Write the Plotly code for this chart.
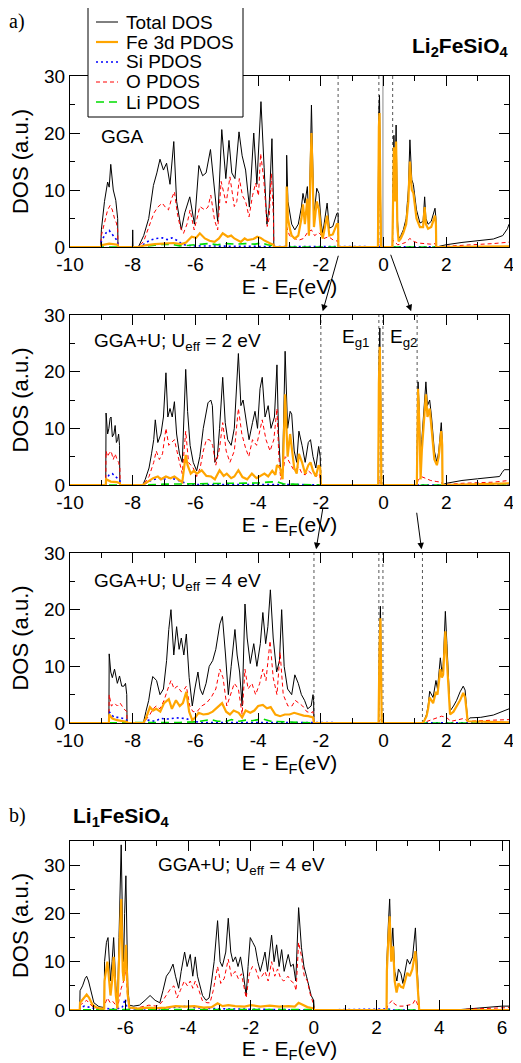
import plotly.graph_objects as go

# ---------------- data: (E - E_F [eV], DOS [a.u.]) ----------------
# Panel a) GGA
P1_TOTAL = [(-10.0,0),(-9.02,0),(-9.0,3),(-8.9,8),(-8.8,11.4),(-8.75,10.5),(-8.7,14.5),(-8.62,10),(-8.54,8.2),(-8.48,5),(-8.47,0),
            (-8.01,0),(-8.0,3),(-7.99,0),
            (-7.82,0),(-7.65,2),(-7.49,5),(-7.34,10.8),(-7.23,13),(-7.13,15.4),(-7.02,13.5),(-6.92,14.7),(-6.81,11),(-6.69,18.5),(-6.60,8),
            (-6.45,3),(-6.34,6),(-6.18,8.8),(-6.03,4),(-5.89,14.3),(-5.77,12.5),(-5.66,13),(-5.52,17.1),(-5.40,10),(-5.29,4.5),(-5.16,20.6),
            (-5.03,12),(-4.93,18.7),(-4.84,13),(-4.74,12),(-4.61,20.2),(-4.51,16),(-4.40,13.5),(-4.28,7),(-4.14,20),(-4.04,11),(-3.91,25.5),
            (-3.81,14),(-3.72,4),(-3.65,7),(-3.56,19),(-3.51,8),(-3.50,0),
            (-3.10,0),(-3.09,16.1),(-3.05,8),(-2.98,5.5),(-2.93,4),(-2.83,3),(-2.72,4),(-2.62,7),(-2.57,9.4),(-2.51,7.7),(-2.43,10.6),(-2.38,3.6),
            (-2.30,24.9),(-2.22,5.3),(-2.13,10.3),(-2.06,9.4),(-1.99,4.2),(-1.94,2.4),(-1.80,7.7),(-1.73,3.3),(-1.62,3.6),(-1.49,5.9),(-1.45,6),(-1.44,0),
            (-0.18,0),(-0.15,24),(-0.13,26.6),(-0.10,10),(-0.08,0),
            (0.28,0),(0.30,10),(0.33,19.6),(0.36,10),(0.40,21.4),(0.44,5),(0.48,1.5),(0.55,2),(0.63,3),(0.72,5),(0.79,10),(0.84,18.8),(0.90,11.8),
            (0.95,11),(1.05,6.5),(1.16,4.2),(1.26,4.5),(1.31,8.8),(1.35,5),(1.42,4),(1.52,4.5),(1.64,6.8),(1.67,5),(1.68,0),
            (1.75,0.1),(2.0,0.4),(2.5,0.8),(3.0,1.1),(3.5,1.4),(3.8,2.0),(3.95,3.2),(4.0,4.0)]
P1_FE = [(-10.0,0),(-9.02,0),(-9.0,0.3),(-8.75,0.6),(-8.48,0.4),(-8.47,0),
         (-7.82,0),(-7.6,0.3),(-7.3,0.5),(-7.0,0.6),(-6.7,0.7),(-6.45,0.5),(-6.3,0.8),(-6.12,1.8),(-5.98,1.6),(-5.86,2.4),(-5.70,1.5),(-5.55,1.1),
         (-5.39,0.9),(-5.25,1.5),(-5.13,2.4),(-4.97,1.8),(-4.86,2.0),(-4.76,1.5),(-4.55,0.9),(-4.43,1.5),(-4.34,1.2),(-4.15,1.4),(-4.03,1.8),
         (-3.92,1.6),(-3.82,1.2),(-3.61,0.6),(-3.51,0.4),(-3.50,0),
         (-3.10,0),(-3.09,10.6),(-3.05,5),(-2.98,3),(-2.93,2),(-2.83,1.5),(-2.72,2),(-2.62,5),(-2.57,7.5),(-2.51,4),(-2.43,8.5),(-2.38,2),
         (-2.30,20),(-2.22,3.5),(-2.13,8),(-2.06,6.5),(-1.99,2.5),(-1.94,1.5),(-1.80,5.5),(-1.73,2),(-1.62,2.2),(-1.49,4),(-1.45,4),(-1.44,0),
         (-0.18,0),(-0.15,21),(-0.13,23.5),(-0.10,8),(-0.08,0),
         (0.28,0),(0.30,8),(0.33,17.5),(0.36,8),(0.40,18.5),(0.44,3.5),(0.48,1),(0.55,1.5),(0.63,2.5),(0.72,4),(0.79,8),(0.84,15),(0.90,10),
         (0.95,9.5),(1.05,5),(1.16,3.5),(1.26,3.5),(1.31,7),(1.35,4),(1.42,3.2),(1.52,3.5),(1.64,5.5),(1.67,4),(1.68,0),(4.0,0.1)]
P1_SI = [(-10.0,0),(-9.02,0),(-9.0,1.0),(-8.85,2.5),(-8.75,2.9),(-8.65,2.2),(-8.55,1.5),(-8.48,1.0),(-8.47,0),(-7.82,0),(-7.65,0.5),
         (-7.45,1.2),(-7.25,1.5),(-7.05,1.6),(-6.9,1.3),(-6.75,1.6),(-6.6,1.2),(-6.45,0.6),(-6.3,0.3),(-6.1,0.2),(-4.0,0.1),(-3.51,0.1),
         (-3.50,0),(4.0,0)]
P1_O = [(-10.0,0),(-9.02,0),(-9.0,2),(-8.9,4),(-8.8,6.5),(-8.72,7.3),(-8.65,6.5),(-8.58,5),(-8.52,4.2),(-8.48,3),(-8.47,0),
        (-7.82,0),(-7.65,1),(-7.48,3.6),(-7.33,5.9),(-7.20,7),(-7.06,7.7),(-6.96,7),(-6.86,6.5),(-6.76,8.5),(-6.67,9.7),(-6.58,6),(-6.49,3.6),
        (-6.38,2.4),(-6.27,4),(-6.17,6.5),(-6.04,3),(-5.95,5),(-5.86,7.1),(-5.70,6.5),(-5.60,7),(-5.51,9.1),(-5.39,4.7),(-5.29,3),(-5.18,11.5),
        (-5.02,7.7),(-4.90,12.3),(-4.76,7.1),(-4.68,8),(-4.60,12),(-4.50,9),(-4.40,8),(-4.29,5.3),(-4.18,9),(-4.08,11.2),(-3.99,9),(-3.92,16.4),
        (-3.82,11.8),(-3.71,3.6),(-3.65,5),(-3.58,12.9),(-3.51,5),(-3.50,0),
        (-3.10,0),(-3.09,3.5),(-3.0,2),(-2.85,1.5),(-2.7,1.2),(-2.55,1.5),(-2.43,2.5),(-2.30,3),(-2.2,2),(-2.06,2.5),(-1.9,1.5),(-1.75,1.8),
        (-1.6,1.2),(-1.45,1),(-1.44,0),
        (-0.18,0),(-0.15,1),(-0.12,1.2),(-0.08,0),
        (0.28,0),(0.30,1.2),(0.36,0.8),(0.45,0.4),(0.55,0.5),(0.7,0.8),(0.84,1.5),(0.95,1),(1.1,0.7),(1.3,0.6),(1.5,0.5),(1.64,0.6),(1.68,0),
        (1.75,0.05),(2.0,0.15),(2.5,0.3),(3.0,0.45),(3.5,0.6),(3.8,0.7),(4.0,0.85)]
P1_LI = [(-10.0,0),(-7.8,0),(-7.3,0.3),(-7.0,0.5),(-6.7,0.4),(-6.5,0.2),(-6.2,0.3),(-5.9,0.5),(-5.6,0.6),(-5.3,0.4),(-5.0,0.6),
         (-4.7,0.5),(-4.4,0.6),(-4.1,0.5),(-3.9,0.7),(-3.7,0.4),(-3.51,0.2),(-3.50,0),(4.0,0)]

# Panel a) GGA+U, U_eff = 2 eV
P2_TOTAL = [(-10.0,0),(-8.86,0),(-8.85,12.7),(-8.80,9),(-8.76,10),(-8.72,11.8),(-8.69,12),(-8.65,8.5),(-8.60,9),(-8.56,10.5),(-8.52,7.5),
            (-8.48,8),(-8.45,9),(-8.42,7),(-8.41,0),
            (-7.68,0),(-7.60,1),(-7.48,3),(-7.40,5.5),(-7.33,8),(-7.28,11.5),(-7.20,7.5),(-7.10,9),(-7.02,12),(-6.94,19.8),(-6.88,12),(-6.81,13.5),
            (-6.74,12),(-6.67,14.7),(-6.60,9),(-6.51,5.5),(-6.42,4),(-6.31,20.4),(-6.25,13),(-6.17,7),(-6.07,4),(-5.96,2.5),(-5.86,5),(-5.75,10),
            (-5.65,13),(-5.60,14.5),(-5.51,15),(-5.46,14),(-5.38,4),(-5.30,5),(-5.23,10),(-5.13,19),(-5.05,11),(-4.97,8),(-4.86,7),(-4.76,10),
            (-4.63,23.2),(-4.55,14),(-4.48,15),(-4.39,12),(-4.29,8),(-4.18,11),(-4.10,13),(-4.02,10),(-3.94,17),(-3.87,19),(-3.78,12),(-3.68,14),
            (-3.59,10),(-3.48,12),(-3.40,21.2),(-3.35,9),(-3.28,2),(-3.22,3),(-3.14,23.6),(-3.06,10),(-2.98,13),(-2.93,12.5),(-2.85,6),(-2.77,4),
            (-2.70,9.5),(-2.60,7),(-2.50,4),(-2.40,7.5),(-2.33,8),(-2.25,5),(-2.16,3),(-2.07,6.8),(-2.02,5),(-2.00,0),
            (-0.17,0),(-0.15,20),(-0.12,27.7),(-0.09,15),(-0.07,0),
            (1.06,0),(1.08,10),(1.10,18.2),(1.14,13),(1.18,3),(1.22,8),(1.30,15),(1.35,18.2),(1.40,14),(1.47,15),(1.53,12),(1.62,6),(1.70,4),
            (1.76,6),(1.84,11),(1.87,8),(1.88,0),
            (1.90,0.1),(2.0,0.3),(2.5,0.8),(3.0,1.1),(3.5,1.3),(3.7,1.5),(3.78,2.2),(3.85,2.7),(4.0,2.7)]
P2_FE = [(-10.0,0),(-8.86,0),(-8.85,1),(-8.7,0.6),(-8.5,0.5),(-8.41,0.3),(-8.40,0),
         (-7.68,0),(-7.6,0.3),(-7.48,0.8),(-7.35,1.2),(-7.2,1.5),(-7.1,1),(-6.94,1.5),(-6.8,1.2),(-6.67,1.5),(-6.55,1.0),(-6.42,0.5),(-6.31,5.3),
         (-6.25,3.5),(-6.15,2.0),(-6.05,2.5),(-5.95,2.0),(-5.8,2.6),(-5.65,1.6),(-5.5,1.5),(-5.38,1.0),(-5.23,2.6),(-5.1,1.6),(-5.0,2.0),
         (-4.86,1.2),(-4.76,1.5),(-4.63,2.6),(-4.5,1.4),(-4.35,1.0),(-4.2,2.0),(-4.05,1.2),(-3.94,1.5),(-3.8,2.0),(-3.68,1.5),(-3.55,2.5),
         (-3.45,1.8),(-3.40,3.5),(-3.30,3.0),(-3.22,1.0),(-3.14,16),(-3.06,5),(-2.98,9),(-2.93,7),(-2.85,3),(-2.77,2),(-2.70,5.5),(-2.60,4),
         (-2.50,2),(-2.40,3.5),(-2.33,4),(-2.25,2.5),(-2.16,1.5),(-2.07,3.5),(-2.02,3),(-2.00,0),
         (-0.17,0),(-0.15,18),(-0.12,24.4),(-0.09,13),(-0.07,0),
         (1.06,0),(1.08,9),(1.10,17),(1.14,11),(1.18,1),(1.22,6),(1.30,13.5),(1.35,16),(1.40,12),(1.47,13.5),(1.53,10),(1.62,4.5),(1.70,3.5),
         (1.76,5),(1.84,9.5),(1.87,7),(1.88,0),(2.5,0.1),(4.0,0.3)]
P2_SI = [(-10.0,0),(-8.86,0),(-8.85,1),(-8.75,1.8),(-8.65,2.0),(-8.55,1.5),(-8.45,1.0),(-8.41,0.8),(-8.40,0),(-7.68,0),(-7.5,0.6),
         (-7.3,1.0),(-7.1,1.2),(-6.95,1.0),(-6.8,1.3),(-6.65,1.0),(-6.5,0.8),(-6.35,0.4),(-6.2,0.1),(-3.0,0.1),(-2.0,0),(4.0,0)]
P2_O = [(-10.0,0),(-8.86,0),(-8.85,6),(-8.80,5),(-8.76,5.5),(-8.69,6),(-8.62,4.5),(-8.56,5.5),(-8.50,4.5),(-8.45,4),(-8.41,3),(-8.40,0),
        (-7.68,0),(-7.6,0.5),(-7.48,1.5),(-7.33,4),(-7.25,6),(-7.15,4.5),(-7.05,5.5),(-6.94,10),(-6.85,7),(-6.75,7.5),(-6.67,8),(-6.55,5),
        (-6.42,2),(-6.31,9.5),(-6.22,4),(-6.07,3),(-5.96,1.5),(-5.85,3),(-5.75,6),(-5.65,8),(-5.55,8),(-5.45,7),(-5.35,3.5),(-5.23,6.5),
        (-5.13,11),(-5.02,6),(-4.9,4),(-4.76,6),(-4.63,13.5),(-4.52,9),(-4.40,6.5),(-4.30,5),(-4.18,8),(-4.05,7),(-3.94,10),(-3.87,11.5),
        (-3.75,8),(-3.62,6),(-3.50,8),(-3.40,13.5),(-3.34,5),(-3.28,1),(-3.20,2.5),(-3.14,5),(-3.05,4.5),(-2.95,3.5),(-2.85,2.5),(-2.7,3.2),
        (-2.6,2),(-2.5,1.8),(-2.4,2.5),(-2.3,2),(-2.15,1.5),(-2.05,2),(-2.00,0),
        (-0.17,0),(-0.14,0.8),(-0.10,1.0),(-0.07,0),
        (1.06,0),(1.10,0.8),(1.2,1.5),(1.35,1.2),(1.5,0.8),(1.7,0.6),(1.85,0.5),(1.88,0),
        (2.0,0.1),(2.5,0.3),(3.0,0.4),(3.5,0.5),(4.0,0.8)]
P2_LI = [(-10.0,0),(-7.6,0),(-7.0,0.15),(-6.0,0.2),(-5.0,0.25),(-4.5,0.3),(-4.0,0.35),(-3.7,0.5),(-3.4,0.6),(-3.2,0.2),(-2.0,0.1),
         (-1.99,0),(4.0,0)]

# Panel a) GGA+U, U_eff = 4 eV
P3_TOTAL = [(-10.0,0),(-8.76,0),(-8.75,12.2),(-8.70,9),(-8.65,8),(-8.58,9.5),(-8.49,7),(-8.42,8.3),(-8.35,6.5),(-8.28,6.5),(-8.23,7),
            (-8.19,5),(-8.18,0),
            (-7.66,0),(-7.58,2),(-7.49,4),(-7.42,6.5),(-7.36,8.2),(-7.24,7.5),(-7.13,5),(-7.02,6),(-6.92,11),(-6.85,16.5),(-6.78,20),(-6.69,12),
            (-6.60,17),(-6.52,13),(-6.45,15),(-6.37,12),(-6.29,15.7),(-6.20,8),(-6.10,3),(-6.02,6),(-5.92,9),(-5.85,6),(-5.77,5),(-5.66,7),
            (-5.56,10),(-5.45,11),(-5.35,13),(-5.22,17.5),(-5.14,18.8),(-5.04,12),(-4.95,5),(-4.86,10),(-4.74,16.5),(-4.67,12),(-4.59,9),
            (-4.51,3),(-4.42,21),(-4.35,15),(-4.25,10.5),(-4.14,14),(-4.04,10),(-3.93,14),(-3.85,19.5),(-3.76,14),(-3.69,17),(-3.61,23.5),
            (-3.52,15),(-3.41,9),(-3.32,11),(-3.25,20),(-3.17,10),(-3.06,6),(-2.93,5),(-2.83,8.5),(-2.72,7),(-2.62,5),(-2.52,4),(-2.42,2.5),
            (-2.31,3),(-2.25,5),(-2.23,4),(-2.22,0),
            (-0.16,0),(-0.13,15),(-0.10,20.6),(-0.08,12),(-0.06,0),
            (1.24,0),(1.30,0.5),(1.37,1.5),(1.42,3),(1.47,5.6),(1.52,5),(1.58,4.5),(1.67,7.5),(1.72,6),(1.81,11.5),(1.86,9),(1.90,10),
            (1.97,19.7),(2.02,14),(2.08,6),(2.12,2.1),(2.23,3),(2.33,4),(2.44,5.5),(2.54,6.5),(2.60,5.8),(2.65,3),(2.68,0.5),
            (2.75,0.9),(3.1,1.0),(3.5,1.4),(3.8,2.0),(4.0,2.5)]
P3_FE = [(-10.0,0),(-8.76,0),(-8.75,1.5),(-8.65,0.8),(-8.5,0.5),(-8.3,0.3),(-8.18,0.2),(-8.17,0),
         (-7.66,0),(-7.58,0.8),(-7.45,2.8),(-7.35,2.2),(-7.25,2.5),(-7.12,2.0),(-7.0,3.5),(-6.85,4.2),(-6.75,2.5),(-6.62,4.0),(-6.50,3.0),
         (-6.40,3.5),(-6.29,5.5),(-6.20,2.0),(-6.10,0.5),(-6.0,1.0),(-5.9,1.8),(-5.75,1.5),(-5.6,1.6),(-5.45,2.0),(-5.3,2.8),(-5.15,3.5),
         (-5.02,2.0),(-4.9,1.5),(-4.78,2.2),(-4.62,1.8),(-4.51,1.0),(-4.4,2.2),(-4.25,1.8),(-4.12,2.2),(-4.0,3.0),(-3.85,3.2),(-3.72,2.6),
         (-3.6,2.8),(-3.45,1.5),(-3.3,1.2),(-3.15,1.5),(-3.0,1.5),(-2.85,1.8),(-2.7,1.5),(-2.55,1.3),(-2.4,1.2),(-2.25,1.0),(-2.22,0),
         (-0.16,0),(-0.13,13),(-0.10,18.5),(-0.08,10),(-0.06,0),
         (1.24,0),(1.30,0.4),(1.37,1.2),(1.42,2.5),(1.47,4.5),(1.52,4.0),(1.58,3.5),(1.67,5.5),(1.72,5.0),(1.81,9.5),(1.86,8),(1.90,8.5),
         (1.97,16.2),(2.02,11),(2.08,4),(2.12,1.5),(2.23,2.0),(2.33,3.0),(2.44,4.0),(2.54,5.3),(2.60,4.5),(2.65,2),(2.68,0.3),(4.0,0.1)]
P3_SI = [(-10.0,0),(-8.76,0),(-8.75,2.0),(-8.6,1.0),(-8.45,1.0),(-8.3,0.8),(-8.19,0.5),(-8.18,0),(-7.66,0),(-7.5,0.5),(-7.3,0.3),
         (-7.1,0.8),(-6.9,0.7),(-6.6,0.9),(-6.3,0.8),(-6.1,0.3),(-5.8,0.1),(-3.0,0.1),(-2.22,0),(4.0,0)]
P3_O = [(-10.0,0),(-8.76,0),(-8.75,5),(-8.68,3),(-8.58,3.5),(-8.49,3),(-8.40,3.5),(-8.28,2.5),(-8.19,2),(-8.18,0),
        (-7.66,0),(-7.58,0.5),(-7.45,1.5),(-7.35,2.5),(-7.25,3.0),(-7.13,2.5),(-7.0,4.0),(-6.88,6.0),(-6.78,7.5),(-6.68,6.0),(-6.58,6.5),
        (-6.45,5.5),(-6.35,6.0),(-6.29,6.5),(-6.18,3.0),(-6.08,2.0),(-5.95,2.0),(-5.8,3.0),(-5.65,3.5),(-5.5,4.5),(-5.35,6.0),(-5.22,9.5),
        (-5.12,8.0),(-5.0,3.0),(-4.88,5.0),(-4.76,7.0),(-4.63,6.0),(-4.51,1.5),(-4.42,9.5),(-4.32,6.0),(-4.20,7.0),(-4.08,5.0),(-3.95,7.0),
        (-3.85,9.5),(-3.75,7.5),(-3.62,14.5),(-3.52,8.0),(-3.40,5.0),(-3.30,12.5),(-3.20,5.0),(-3.05,3.0),(-2.92,3.0),(-2.82,4.0),(-2.70,3.5),
        (-2.58,3.0),(-2.45,2.0),(-2.32,1.8),(-2.25,2.0),(-2.22,0),
        (-0.16,0),(-0.12,0.8),(-0.07,0.5),(-0.06,0),
        (1.24,0),(1.4,0.3),(1.6,0.6),(1.85,1.2),(2.0,1.0),(2.15,0.3),(2.4,0.6),(2.55,0.8),(2.7,0.3),(3.0,0.4),(3.5,0.5),(4.0,0.6)]
P3_LI = [(-10.0,0),(-7.6,0),(-6.5,0.1),(-6.0,0.2),(-5.7,0.5),(-5.5,0.6),(-5.3,0.3),(-5.0,0.3),(-4.85,0.6),(-4.6,0.3),(-4.4,0.5),
         (-4.2,0.4),(-4.0,0.6),(-3.85,0.7),(-3.6,0.3),(-3.0,0.15),(-2.22,0.05),(-2.21,0),(4.0,0)]

# Panel b) Li1FeSiO4, GGA+U, U_eff = 4 eV
P4_TOTAL = [(-7.76,0),(-7.45,0),(-7.44,4.0),(-7.36,5.0),(-7.28,6.5),(-7.23,7.0),(-7.17,6.0),(-7.12,4.5),(-7.0,1.5),(-6.84,0.7),(-6.70,0.5),
            (-6.67,0.5),(-6.66,10),(-6.60,14),(-6.55,15),(-6.51,10),(-6.47,6),(-6.42,10),(-6.37,15),(-6.30,5),(-6.25,0.5),(-6.20,15),
            (-6.13,34.2),(-6.08,15),(-6.05,10),(-6.02,20),(-5.98,27.8),(-5.92,5),(-5.87,1),(-5.74,0.8),(-5.55,1.0),(-5.37,2.0),(-5.21,3.0),
            (-5.05,2.0),(-4.90,1.5),(-4.80,4.0),(-4.69,7.0),(-4.58,8.0),(-4.48,9.5),(-4.40,7.0),(-4.30,4.5),(-4.22,8.0),(-4.11,12.0),(-4.03,9.0),
            (-3.93,11.5),(-3.85,7.0),(-3.77,11.0),(-3.70,7.0),(-3.62,5.0),(-3.54,3.0),(-3.43,2.0),(-3.33,2.5),(-3.25,6.0),(-3.17,10.0),
            (-3.06,18.5),(-2.98,10.0),(-2.91,9.0),(-2.80,12.0),(-2.72,19.0),(-2.64,12.0),(-2.57,10.0),(-2.49,11.0),(-2.41,9.0),(-2.33,11.0),
            (-2.23,7.0),(-2.15,3.0),(-2.09,9.0),(-2.02,15.0),(-1.94,14.0),(-1.86,13.0),(-1.78,10.0),(-1.70,8.0),(-1.62,10.0),(-1.55,12.0),
            (-1.47,8.0),(-1.34,15.5),(-1.26,10.0),(-1.18,13.5),(-1.10,9.0),(-1.02,12.5),(-0.94,8.0),(-0.81,11.5),(-0.73,9.0),(-0.65,9.5),
            (-0.57,6.0),(-0.48,21.2),(-0.39,13.0),(-0.31,9.0),(-0.23,7.0),(-0.16,5.0),(-0.08,3.0),(0.0,2.0),(0.02,0),
            (2.32,0),(2.33,10),(2.38,18),(2.42,23),(2.47,12),(2.52,17),(2.58,8),(2.65,6),(2.70,8.5),(2.78,7.5),(2.84,5.5),(2.91,8.0),
            (2.98,10.5),(3.06,9.5),(3.15,11.0),(3.24,17.0),(3.30,8.0),(3.36,0),
            (4.5,0),(5.0,0.3),(5.5,0.5),(6.0,0.8),(6.22,0.8)]
P4_FE = [(-7.76,0),(-7.45,0),(-7.44,1.5),(-7.36,2.2),(-7.28,3.0),(-7.23,3.2),(-7.15,2.5),(-7.05,1.2),(-6.95,0.6),(-6.80,0.3),(-6.67,0.3),
         (-6.66,6.0),(-6.57,10.0),(-6.50,5.0),(-6.47,3.0),(-6.42,6.0),(-6.37,11.0),(-6.30,3.0),(-6.25,0.3),(-6.20,10.0),(-6.13,23.0),
         (-6.08,8.0),(-6.05,6.0),(-6.02,9.0),(-5.98,13.5),(-5.92,3.0),(-5.87,0.5),(-5.6,0.3),(-5.3,0.5),(-5.0,0.4),(-4.7,0.5),(-4.4,0.8),
         (-4.1,0.7),(-3.8,0.8),(-3.5,0.5),(-3.25,0.6),(-3.06,1.4),(-2.9,0.8),(-2.72,1.0),(-2.5,0.8),(-2.2,0.7),(-2.0,1.0),(-1.7,0.7),
         (-1.4,0.9),(-1.1,0.7),(-0.8,0.8),(-0.6,0.7),(-0.48,1.5),(-0.35,1.0),(-0.2,0.6),(0.0,0.3),(0.02,0),
         (2.32,0),(2.33,8),(2.38,15),(2.42,19.4),(2.47,10),(2.53,13.2),(2.58,6),(2.64,3.6),(2.70,5.5),(2.78,4.8),(2.85,4.6),(2.91,6.0),
         (2.98,7.7),(3.06,7.0),(3.14,8.4),(3.24,12.2),(3.30,5.0),(3.36,0),(6.22,0)]
P4_SI = [(-7.76,0),(-7.45,0),(-7.44,0.5),(-7.3,0.8),(-7.1,0.5),(-6.9,0.2),(-6.6,0.3),(-6.3,0.2),(-6.1,0.5),(-6.0,2.3),(-5.95,0.5),
         (-5.8,0.2),(-5.0,0.2),(-4.5,0.5),(-4.2,0.8),(-4.0,0.8),(-3.8,0.5),(-3.3,0.3),(-2.5,0.2),(0.0,0.1),(0.02,0),(2.4,0.2),(2.45,0),
         (6.22,0)]
P4_O = [(-7.76,0),(-7.45,0),(-7.44,1.0),(-7.30,1.8),(-7.23,2.0),(-7.12,1.2),(-7.0,0.5),(-6.8,0.3),(-6.67,0.3),(-6.66,1.0),(-6.57,2.5),
        (-6.48,1.5),(-6.40,1.8),(-6.30,1.0),(-6.25,0.3),(-6.20,2.0),(-6.13,4.5),(-6.05,6.0),(-5.98,8.4),(-5.93,3.0),(-5.87,0.5),(-5.7,0.3),
        (-5.5,0.6),(-5.25,1.0),(-5.0,0.8),(-4.85,1.5),(-4.7,3.0),(-4.55,4.5),(-4.45,5.0),(-4.35,2.5),(-4.25,4.0),(-4.12,6.0),(-4.02,5.0),
        (-3.93,6.0),(-3.85,4.5),(-3.77,6.0),(-3.65,4.0),(-3.55,2.0),(-3.40,1.5),(-3.30,1.5),(-3.20,4.0),(-3.06,9.0),(-2.96,5.5),(-2.85,6.5),
        (-2.72,10.5),(-2.62,7.0),(-2.50,8.0),(-2.40,6.5),(-2.30,7.5),(-2.20,4.0),(-2.15,2.5),(-2.05,7.5),(-1.95,9.0),(-1.85,8.5),(-1.75,6.5),
        (-1.65,7.0),(-1.55,8.0),(-1.45,6.0),(-1.34,10.0),(-1.24,7.0),(-1.15,8.5),(-1.05,6.5),(-0.95,6.0),(-0.82,7.0),(-0.72,6.0),(-0.62,5.5),
        (-0.56,4.0),(-0.48,14.0),(-0.40,11.5),(-0.30,7.0),(-0.20,6.0),(-0.12,3.5),(-0.02,1.5),(0.02,0),
        (2.32,0),(2.36,1.0),(2.42,1.5),(2.50,2.0),(2.58,1.2),(2.70,0.8),(2.85,0.8),(3.0,1.0),(3.15,1.2),(3.24,2.2),(3.32,1.0),(3.36,0),
        (4.5,0),(5.0,0.2),(6.22,0.5)]
P4_LI = [(-7.76,0),(-7.4,0.05),(-5.0,0.1),(-3.0,0.15),(-1.0,0.2),(0.0,0.1),(0.02,0),(6.22,0)]

SERIES_NAMES = ["Total DOS", "Fe 3d PDOS", "Si PDOS", "O PDOS", "Li PDOS"]
PANELS = [
    [P1_TOTAL, P1_FE, P1_SI, P1_O, P1_LI],
    [P2_TOTAL, P2_FE, P2_SI, P2_O, P2_LI],
    [P3_TOTAL, P3_FE, P3_SI, P3_O, P3_LI],
    [P4_TOTAL, P4_FE, P4_SI, P4_O, P4_LI],
]
X_RANGES = [[-10, 4], [-10, 4], [-10, 4], [-7.76, 6.22]]
Y_RANGES = [[0, 30], [0, 30], [0, 30], [0, 35]]
X_TICKS = [[-10, -8, -6, -4, -2, 0, 2, 4]] * 3 + [[-6, -4, -2, 0, 2, 4, 6]]
Y_TICKS = [0, 10, 20, 30]
PANEL_TEXT = ["GGA", "GGA+U; U<sub>eff</sub> = 2 eV", "GGA+U; U<sub>eff</sub> = 4 eV", "GGA+U; U<sub>eff</sub> = 4 eV"]
# band-edge marker lines (eV)
GAP_LINES = [[-1.45, -0.15, 0.29], [-2.0, -0.15, -0.02, 1.07], [-2.22, -0.15, -0.02, 1.24], []]
FERMI_LINE_P1 = -0.02

# ---------------- styling / layout ----------------
FONT = "Liberation Sans"
OFF = 8                      # page body margin in front of the figure
WIN_W, WIN_H = 521, 1063     # window size
W, H = WIN_W - OFF, WIN_H - OFF
PLOT_L, PLOT_R = 70, 509     # page-space left/right edge of the plot boxes (kept inside the visible area)
ML = PLOT_L - OFF
PW = PLOT_R - PLOT_L
MR = W - ML - PW
PANEL_PX = [(76, 247), (315, 485), (553, 723), (841, 1010)]   # page-space top/bottom of each plot box


def fx(px):
    return (px - OFF - ML) / PW


def fy(py):
    return (H - (py - OFF)) / H


STYLES = [
    dict(color="black", width=1),
    dict(color="#FFA500", width=2.2),
    dict(color="#0000FF", width=1.6, dash="2px,3px"),
    dict(color="#FF0000", width=1, dash="4px,3px"),
    dict(color="#00DD00", width=1.6, dash="8px,5px"),
]
DRAW_ORDER = [0, 3, 2, 4, 1]

fig = go.Figure()
for i, series in enumerate(PANELS):
    xa = "x" if i == 0 else f"x{i+1}"
    ya = "y" if i == 0 else f"y{i+1}"
    for k in DRAW_ORDER:
        pts = series[k]
        fig.add_trace(go.Scatter(
            x=[p[0] for p in pts], y=[p[1] for p in pts], mode="lines",
            name=SERIES_NAMES[k], line=STYLES[k], xaxis=xa, yaxis=ya,
            showlegend=False, hoverinfo="skip"))

layout = dict(
    width=W, height=H, margin=dict(l=ML, r=MR, t=0, b=0, autoexpand=False),
    paper_bgcolor="white", plot_bgcolor="white",
    font=dict(family=FONT, size=19, color="black"),
    showlegend=False,
    shapes=[], annotations=[],
)

for i in range(4):
    top, bot = PANEL_PX[i]
    sfx = "" if i == 0 else str(i + 1)
    common = dict(showline=True, linecolor="black", linewidth=1, mirror="ticks", ticks="inside",
                  ticklen=10, tickwidth=1, tickcolor="black", showgrid=False, zeroline=False,
                  tickfont=dict(family=FONT, size=19, color="black"))
    layout["xaxis" + sfx] = dict(
        common, domain=[0, 1], range=X_RANGES[i], anchor="y" + sfx,
        tickmode="array", tickvals=X_TICKS[i], ticktext=[str(v) for v in X_TICKS[i]],
        ticklabeloverflow="allow",
        minor=dict(tickmode="linear", tick0=0, dtick=1, ticks="inside", ticklen=5, tickcolor="black", showgrid=False),
        title=dict(text="E - E<sub>F</sub>(eV)", font=dict(family=FONT, size=21, color="black"), standoff=5))
    layout["yaxis" + sfx] = dict(
        common, domain=[fy(bot), fy(top)], range=Y_RANGES[i], anchor="x" + sfx,
        tickmode="array", tickvals=Y_TICKS, ticktext=[str(v) for v in Y_TICKS],
        minor=dict(tickmode="linear", tick0=0, dtick=5, ticks="inside", ticklen=5, tickcolor="black", showgrid=False),
        title=dict(text="DOS (a.u.)", font=dict(family=FONT, size=22, color="black"), standoff=17))
    for xv in GAP_LINES[i]:
        layout["shapes"].append(dict(type="line", xref="x" + sfx, yref=f"y{sfx} domain", x0=xv, x1=xv, y0=0, y1=1,
                                     line=dict(color="#555555", width=1, dash="dot"), layer="below"))

layout["shapes"].append(dict(type="line", xref="x", yref="y domain", x0=FERMI_LINE_P1, x1=FERMI_LINE_P1, y0=0, y1=1,
                             line=dict(color="#888888", width=1), layer="below"))

ann = layout["annotations"]


def text(s, px, py, size=19, anchor="left", family=FONT):
    ann.append(dict(text=s, x=fx(px), y=fy(py), xref="paper", yref="paper", showarrow=False,
                    xanchor=anchor, yanchor="middle", font=dict(family=family, size=size, color="black")))


# legend box (page-space geometry) with one sample line per series
LEG_BOX = (88, 7, 243, 117)
LEG_ROWS = [22, 42, 62, 82, 102]
layout["shapes"].append(dict(type="rect", xref="paper", yref="paper", x0=fx(LEG_BOX[0]), x1=fx(LEG_BOX[2]),
                             y0=fy(LEG_BOX[3]), y1=fy(LEG_BOX[1]), fillcolor="white",
                             line=dict(color="black", width=1), layer="above"))
for row, k in zip(LEG_ROWS, [0, 1, 2, 3, 4]):
    layout["shapes"].append(dict(type="line", xref="paper", yref="paper", x0=fx(96), x1=fx(118), y0=fy(row), y1=fy(row),
                                 line=STYLES[k], layer="above"))
    text(SERIES_NAMES[k], 124, row, size=19)

text("a)", 17, 21, size=20, anchor="center", family="Liberation Serif")
text("b)", 17, 815, size=20, anchor="center", family="Liberation Serif")
text("<b>Li<sub>2</sub>FeSiO<sub>4</sub></b>", 511, 47, size=21, anchor="right")
text("<b>Li<sub>1</sub>FeSiO<sub>4</sub></b>", 71, 817, size=21, anchor="left")
text(PANEL_TEXT[0], 99, 136)
text(PANEL_TEXT[1], 92, 342)
text(PANEL_TEXT[2], 92, 582)
text(PANEL_TEXT[3], 156, 866)
text("E<sub>g1</sub>", 340, 338)
text("E<sub>g2</sub>", 388, 338)

# arrows linking band edges between panels: (panel, head x in eV, tail offset px)
ARROWS = [(2, -1.94, 16, -57), (2, 0.88, -21, -58), (3, -2.15, 7, -43), (3, 1.21, -5, -38)]
for p, xv, axp, ayp in ARROWS:
    ann.append(dict(text="", x=xv, y=1.022, xref=f"x{p}", yref=f"y{p} domain", showarrow=True,
                    ax=axp, ay=ayp, arrowhead=2, arrowsize=1.3, arrowwidth=1, arrowcolor="black", standoff=0))

fig.update_layout(**layout)
fig.write_html("out.html")
